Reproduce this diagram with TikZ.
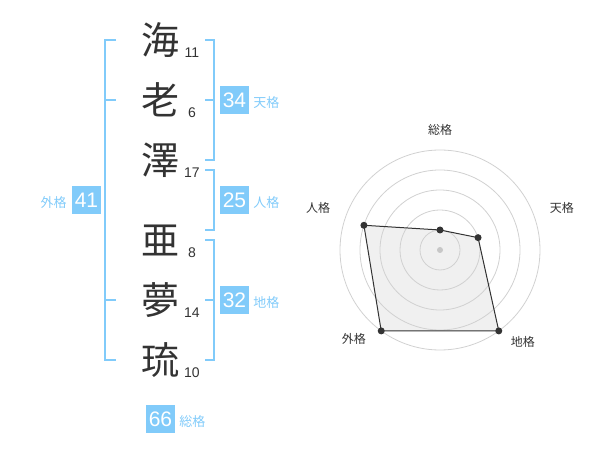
\documentclass[tikz,border=0pt]{standalone}
\usepackage{fontspec}
\setmainfont{Liberation Sans}
\newfontfamily\jp{Noto Sans CJK JP}
\usetikzlibrary{positioning}
\definecolor{sky}{RGB}{129,203,250}
\definecolor{ink}{RGB}{51,51,51}

\begin{document}
\begin{tikzpicture}[x=1pt,y=-1pt,node distance=60pt,
    kanji/.style={inner sep=0pt,text=ink,font=\jp\fontsize{38}{38}\selectfont},
    num/.style={inner sep=0pt,text=ink,font=\fontsize{14}{14}\selectfont},
    score/.style={fill=sky,text=white,minimum width=29pt,minimum height=28pt,inner sep=0pt,font=\fontsize{21}{21}\selectfont},
    kaku/.style={inner sep=0pt,text=sky,font=\jp\fontsize{13}{13}\selectfont},
    bracket/.style={draw=sky,line width=2pt},
    ring/.style={draw=black!18,line width=0.8pt},
    web/.style={draw=ink,line width=1pt,line join=round},
    axis label/.style={inner sep=0pt,text=ink,font=\jp\fontsize{12}{12}\selectfont}]

            \useasboundingbox (0,0) rectangle (600,470);

            \node[kanji] (1) at (160,40) {海};
            \node[kanji] (2) [below of = 1] {老};
            \node[kanji] (3) [below of = 2] {澤};
            \node[kanji] (4) at (160,240) {亜};
            \node[kanji] (5) [below of = 4] {夢};
            \node[kanji] (6) [below of = 5] {琉};

            \node[num] (n1) at ([shift={(32,13)}]1.center) {11};
            \node[num] (n2) at ([shift={(32,13)}]2.center) {6};
            \node[num] (n3) at ([shift={(32,13)}]3.center) {17};
            \node[num] (n4) at ([shift={(32,13)}]4.center) {8};
            \node[num] (n5) at ([shift={(32,13)}]5.center) {14};
            \node[num] (n6) at ([shift={(32,13)}]6.center) {10};

            \node[score] (b1) at (234.5,100) {34};
            \node[score] (b2) at (234.5,200) {25};
            \node[score] (b3) at (234.5,300) {32};
            \node[score] (b4) at (86.5,200) {41};
            \node[score] (b5) at (160.5,419) {66};

            \node[kaku] (k1) [right=4pt of b1.base east, anchor=base west] {天格};
            \node[kaku] (k2) [right=4pt of b2.base east, anchor=base west] {人格};
            \node[kaku] (k3) [right=4pt of b3.base east, anchor=base west] {地格};
            \node[kaku] (k4) [left=5pt of b4.base west, anchor=base east] {外格};
            \node[kaku] (k5) [right=4pt of b5.base east, anchor=base west] {総格};

            \coordinate (L) at (105,0);
            \coordinate (R) at (214,0);

            \draw[bracket] (1 -| L) ++(11,0) -- (1 -| L) -- (6 -| L) -- ++(11,0);
            \draw[bracket] (2 -| L) -- ++(11,0);
            \draw[bracket] (5 -| L) -- ++(11,0);
            \draw[bracket] (1 -| R) ++(-9,0) -- (1 -| R) -- (3 -| R) -- ++(-9,0);
            \draw[bracket] (2 -| R) -- ++(-9,0);
            \draw[bracket] (3 -| R) ++(-9,10) -- ++(9,0) -- ++(0,60) -- ++(-9,0);
            \draw[bracket] (4 -| R) ++(-9,0) -- (4 -| R) -- (6 -| R) -- ++(-9,0);
            \draw[bracket] (5 -| R) -- ++(-9,0);

            \begin{scope}[shift={(440,250)},y=1pt]
                \coordinate (s1) at (90:20);
                \coordinate (s2) at (18:40);
                \coordinate (s3) at (-54:100);
                \coordinate (s4) at (-126:100);
                \coordinate (s5) at (162:80);

                \fill[black!6] (s1) -- (s2) -- (s3) -- (s4) -- (s5) -- cycle;
                \foreach \r in {20,40,60,80,100}
                    \draw[ring] (0,0) circle (\r);
                \fill[black!22] (0,0) circle (3);
                \draw[web] (s1) -- (s2) -- (s3) -- (s4) -- (s5) -- cycle;
                \foreach \i in {1,...,5}
                    \fill[ink] (s\i) circle (3.5);

                \node[axis label] (a1) at (90:120) {総格};
                \node[axis label] (a2) at (19:129) {天格};
                \node[axis label] (a3) at (-48:124) {地格};
                \node[axis label] (a4) at (-134:124) {外格};
                \node[axis label] (a5) at (161:129) {人格};
            \end{scope}

            ;
        \end{tikzpicture}
\end{document}
